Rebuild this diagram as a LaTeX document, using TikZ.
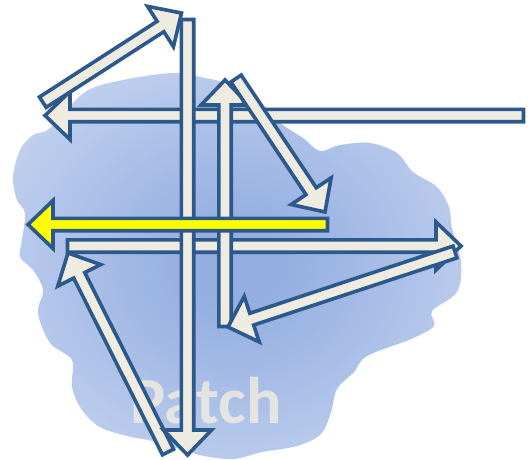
\documentclass[tikz,border=0pt]{standalone}
\usepackage{fontspec}
\setmainfont{Carlito}
\usetikzlibrary{calc}
\definecolor{arrline}{RGB}{44,88,140}
\definecolor{cream}{RGB}{238,235,224}
\definecolor{hiyel}{RGB}{255,255,0}
\definecolor{cloudin}{RGB}{148,174,225}
\definecolor{cloudout}{RGB}{220,229,246}
\pgfdeclareradialshading{cloudshade}{\pgfpoint{0bp}{0bp}}{color(0bp)=(cloudin); color(5bp)=(cloudin); color(44bp)=(cloudout); color(50bp)=(cloudout)}
\tikzset{
  blk/.style={draw=arrline, line width=3.6pt, line join=miter, miter limit=10},
  cloudshape/.style={shading=cloudshade, draw=none},
  patchtext/.style={text=cream, text opacity=0.85, font=\bfseries\fontsize{66}{66}\selectfont, inner sep=0pt, anchor=base}
}
\newcommand\blockarr[3]{%
  \coordinate (#2h) at ($(#3)!25pt!(#2)$);
  \path[blk, fill=#1] ($(#2)!6.2pt!90:(#3)$) -- ($(#2h)!6.2pt!90:(#3)$) -- ($(#2h)!24pt!90:(#3)$) -- (#3) -- ($(#2h)!24pt!-90:(#3)$) -- ($(#2h)!6.2pt!-90:(#3)$) -- ($(#2)!6.2pt!-90:(#3)$) -- cycle;
}
\begin{document}
\begin{tikzpicture}[x=1pt,y=-1pt]
\useasboundingbox (0,0) rectangle (529,459);
\fill[white] (0,0) rectangle (529,459);
% cloud
\path[cloudshape] plot[smooth cycle, tension=0.55] coordinates {
 (50,128) (85,92) (123,80) (173,73) (205,78) (228,84) (252,100) (280,123)
 (303,138) (320,151) (340,145) (370,143) (397,153) (413,172) (437,187)
 (449,207) (452,228) (461,262) (457,292) (432,311) (434,326) (411,339)
 (367,356) (354,372) (337,389) (331,412) (321,434) (297,446) (262,452)
 (233,459) (200,455) (157,442) (127,436) (100,427) (82,410) (72,387)
 (72,360) (50,343) (38,313) (43,290) (33,270) (20,257) (22,240) (25,213)
 (17,200) (13,177) (20,150) (33,135)};
\node[patchtext] (patch) at (206,423) {Patch};
% arrow end points
\coordinate (a1s) at (523.5,115.5); \coordinate (a1e) at (45,115.5);
\coordinate (a2s) at (42.8,102.2);  \coordinate (a2e) at (181.5,13);
\coordinate (a8s) at (168,452);     \coordinate (a8e) at (68,253);
\coordinate (a7s) at (67.5,246);    \coordinate (a7e) at (461,246);
\coordinate (a3s) at (187.5,19.5);  \coordinate (a3e) at (187.5,455);
\coordinate (a4s) at (225,326.5);   \coordinate (a4e) at (225,80);
\coordinate (a5s) at (236,78.5);    \coordinate (a5e) at (325,212);
\coordinate (a9s) at (455,252);     \coordinate (a9e) at (228,327);
\coordinate (ys)  at (327.5,224.5); \coordinate (ye)  at (28,224.5);
\blockarr{cream}{a1s}{a1e}
\blockarr{cream}{a2s}{a2e}
\blockarr{cream}{a8s}{a8e}
\blockarr{cream}{a7s}{a7e}
\blockarr{cream}{a3s}{a3e}
\blockarr{cream}{a4s}{a4e}
\blockarr{cream}{a5s}{a5e}
\blockarr{cream}{a9s}{a9e}
\blockarr{hiyel}{ys}{ye}
\end{tikzpicture}
\end{document}
